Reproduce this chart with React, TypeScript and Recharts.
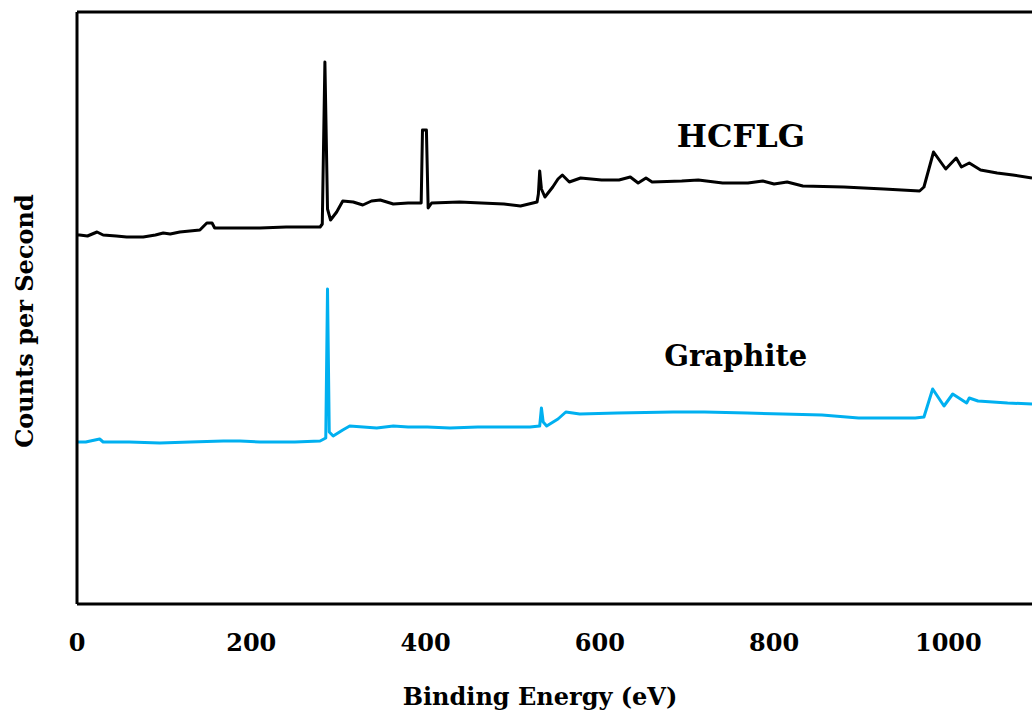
import React from 'react';
import { LineChart, Line, XAxis, YAxis, ReferenceLine, ReferenceDot } from 'recharts';

// binding energy (eV) / counts (arbitrary units)
const hcflgEnergy = [
  0, 3, 12, 23, 30, 45, 57, 76, 90, 99, 107, 118, 141, 149, 155, 158, 185, 210, 240, 279,
  281.5, 284.5, 287.5, 291, 298, 305, 317, 328, 338, 348, 363, 380, 395, 396.5, 401, 403,
  407, 439, 464, 490, 509, 528, 529.5, 531, 533, 537, 546, 552, 557, 565, 578, 602, 622,
  635, 644, 653, 660, 694, 713, 741, 770, 787, 800, 815, 833, 880, 926, 967, 972, 983, 997,
  1009, 1015, 1024, 1037, 1056, 1074, 1096,
];
const hcflgCounts = [
  369, 369, 368, 372, 369, 368, 367, 367, 369, 371, 370, 372, 374, 381, 381, 376, 376, 376, 377, 377,
  380, 542, 395, 384, 392, 403, 402, 399, 403, 404, 400, 401, 401, 474, 474, 396,
  401, 402, 401, 400, 398, 402, 410, 433, 415, 407, 417, 425, 429, 422, 426, 424, 424,
  427, 421, 426, 422, 423, 424, 421, 421, 423, 420, 422, 418, 417, 415, 413, 417, 452, 435,
  446, 437, 441, 434, 431, 429, 426,
];

const graphiteEnergy = [
  0, 10, 26, 30, 60, 95, 130, 168, 187, 210, 250, 279, 285.5, 287.5, 289.5, 294, 305, 313,
  344, 363, 380, 402, 428, 460, 490, 520, 531, 533, 535, 539, 552, 561, 577, 620, 684, 720,
  769, 810, 855, 897, 940, 962, 972, 982, 995, 1005, 1021, 1024, 1034, 1068, 1096,
];
const graphiteCounts = [
  162, 162, 165, 162, 162, 161, 162, 163, 163, 162, 162, 163, 166, 315, 172, 168, 174, 178,
  176, 178, 177, 177, 176, 177, 177, 177, 178, 196, 182, 178, 185, 192, 190, 191, 192, 192,
  191, 190, 189, 186, 186, 186, 187, 215, 198, 210, 201, 206, 203, 201, 200,
];

const xTicks = [0, 200, 400, 600, 800, 1000];

const hcflgData = hcflgEnergy.map((ev, i) => ({ ev, cps: hcflgCounts[i] }));
const graphiteData = graphiteEnergy.map((ev, i) => ({ ev, cps: graphiteCounts[i] }));

const FONT = '"DejaVu Serif", serif';

const seriesLabel = (text: string, size: number) => (props: any) => {
  const { x, y } = props.viewBox;
  return (
    <text x={x} y={y} textAnchor="middle" fontFamily={FONT} fontWeight="bold" fontSize={size} fill="#000">
      {text}
    </text>
  );
};

export default function App() {
  return (
    <div style={{ position: 'absolute', left: 0, top: 0, width: 1032, height: 717, background: '#fff' }}>
      <LineChart width={1032} height={717} margin={{ top: 12, right: 0, bottom: 0, left: 0 }}>
        <XAxis
          type="number"
          dataKey="ev"
          domain={[0, 1096]}
          ticks={xTicks}
          allowDataOverflow
          height={113}
          tickLine={false}
          tickSize={6}
          tickMargin={24}
          axisLine={{ stroke: '#000', strokeWidth: 3 }}
          tick={{ fill: '#000', fontFamily: FONT, fontWeight: 'bold', fontSize: 24 }}
          label={() => (
            <text x={540} y={705} textAnchor="middle" fontFamily={FONT} fontWeight="bold" fontSize={24} fill="#000">
              Binding Energy (eV)
            </text>
          )}
        />
        <YAxis
          type="number"
          domain={[0, 592]}
          width={77}
          tick={false}
          tickLine={false}
          axisLine={{ stroke: '#000', strokeWidth: 3 }}
          label={() => (
            <text
              x={24}
              y={321}
              transform="rotate(-90, 24, 321)"
              textAnchor="middle"
              dominantBaseline="central"
              fontFamily={FONT}
              fontWeight="bold"
              fontSize={24}
              fill="#000"
            >
              Counts per Second
            </text>
          )}
        />
        <ReferenceLine y={592} stroke="#000" strokeWidth={3} />
        <Line
          data={hcflgData}
          dataKey="cps"
          type="linear"
          stroke="#000"
          strokeWidth={3}
          strokeLinejoin="round"
          dot={false}
          isAnimationActive={false}
        />
        <Line
          data={graphiteData}
          dataKey="cps"
          type="linear"
          stroke="#00B0F0"
          strokeWidth={3}
          strokeLinejoin="round"
          dot={false}
          isAnimationActive={false}
        />
        <ReferenceDot x={762} y={457} r={0} stroke="none" label={seriesLabel('HCFLG', 32)} />
        <ReferenceDot x={756} y={238} r={0} stroke="none" label={seriesLabel('Graphite', 29)} />
      </LineChart>
    </div>
  );
}
